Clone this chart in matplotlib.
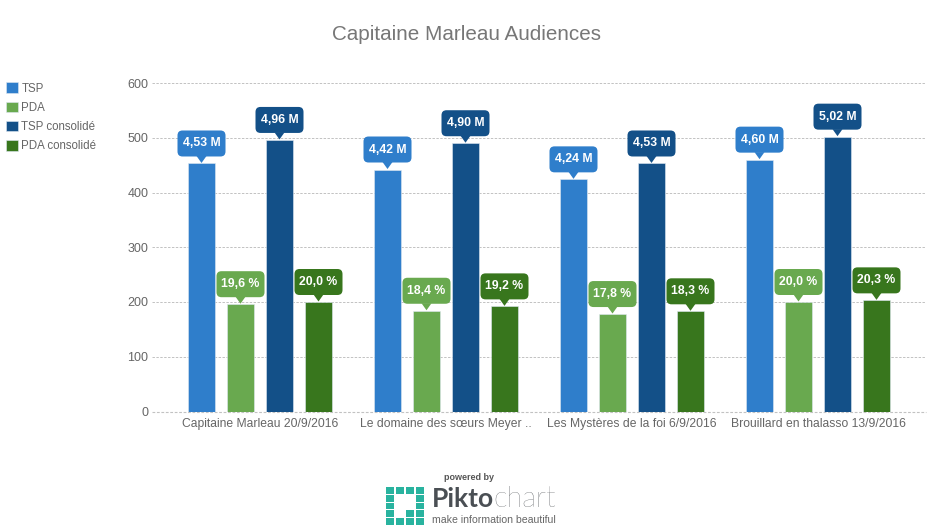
import matplotlib
matplotlib.use("Agg")
import matplotlib.pyplot as plt
from matplotlib.patches import Rectangle, FancyBboxPatch, Polygon
from matplotlib.transforms import Affine2D
import numpy as np

plt.rcParams['font.family'] = ['Liberation Sans', 'DejaVu Sans']

categories = ["Capitaine Marleau 20/9/2016", "Le domaine des sœurs Meyer ..",
              "Les Mystères de la foi 6/9/2016", "Brouillard en thalasso 13/9/2016"]
series_names = ["TSP", "PDA", "TSP consolidé", "PDA consolidé"]
tsp = [453, 442, 424, 460]
pda = [196, 184, 178, 200]
tsp_cons = [496, 490, 453, 502]
pda_cons = [200, 192, 183, 203]
tsp_labels = ["4,53 M", "4,42 M", "4,24 M", "4,60 M"]
pda_labels = ["19,6 %", "18,4 %", "17,8 %", "20,0 %"]
tsp_cons_labels = ["4,96 M", "4,90 M", "4,53 M", "5,02 M"]
pda_cons_labels = ["20,0 %", "19,2 %", "18,3 %", "20,3 %"]
colors = ["#2f7ecb", "#69a94f", "#135088", "#38761d"]
yticks = [0, 100, 200, 300, 400, 500, 600]

W, H = 940, 527
fig = plt.figure(figsize=(W/100, H/100), dpi=100, facecolor="white")
L, R, T, B = 152, 926, 83, 411.5
ax = fig.add_axes([L/W, 1-B/H, (R-L)/W, (B-T)/H])
ax.set_xlim((L-260)/186, (R-260)/186)
ax.set_ylim(0, 600)

values = [tsp, pda, tsp_cons, pda_cons]
labels = [tsp_labels, pda_labels, tsp_cons_labels, pda_cons_labels]
x = np.arange(len(categories))
step = 39/186
width = 27/186
for i, (vals, labs, c, name) in enumerate(zip(values, labels, colors, series_names)):
    xs = x + (i-1.5)*step
    ax.bar(xs, vals, width=width, color=c, label=name, zorder=3, edgecolor="#dfe8f2", linewidth=0.4)
    for xi, v, s in zip(xs, vals, labs):
        tr = Affine2D().translate(*ax.transData.transform((xi, v)))
        ax.add_patch(FancyBboxPatch((-20, 11), 40, 18, boxstyle="round,pad=4,rounding_size=5",
                                    fc=c, ec=c, lw=0, transform=tr, zorder=4, clip_on=False))
        ax.add_patch(Polygon([(-5, 7.5), (5, 7.5), (0, 0.5)], closed=True, fc=c, ec=c, lw=0,
                             transform=tr, zorder=4, clip_on=False))
        ax.annotate(s, (xi, v), xytext=(0, 20*0.72), textcoords="offset points",
                    ha="center", va="center", color="white", fontsize=8.8, fontweight="bold", zorder=5)

ax.set_yticks(yticks)
ax.set_xticks(x, categories)
ax.tick_params(axis="both", length=0, labelcolor="#666666")
ax.tick_params(axis="y", pad=2.5, labelsize=9)
ax.tick_params(axis="x", pad=5, labelsize=8.7)
ax.grid(axis="y", color="#c2c2c2", ls=(0, (2.5, 1.5)), lw=0.7, zorder=0)
ax.set_axisbelow(True)
for s in ax.spines.values():
    s.set_visible(False)
ax.axhline(0, color="#c2c2c2", ls=(0, (2.5, 1.5)), lw=0.8, zorder=2, clip_on=False)

fig.text(467/W, 1-34.5/H, "Capitaine Marleau Audiences", ha="center", va="center",
         fontsize=14.9, color="#777777")

h, l = ax.get_legend_handles_labels()
fig.legend(h, l, loc="upper left", bbox_to_anchor=(3/W, 1-79/H), frameon=False, fontsize=8.3,
           labelcolor="#666666", handlelength=1.0, handleheight=1.0, handletextpad=0.3,
           labelspacing=0.62, borderpad=0.3, borderaxespad=0)

# Logo
logo = fig.add_axes([0, 0, 1, 1], facecolor="none")
logo.set_xlim(0, W); logo.set_ylim(H, 0); logo.axis("off")
teal = "#29b39f"
cells = [(0,0),(1,0),(2,0),(3,0),(0,1),(3,1),(0,2),(3,2),(0,3),(2,3),(3,3),(0,4),(1,4),(2,4),(3,4)]
for cx, cy in cells:
    logo.add_patch(Rectangle((385.5+10.3*cx, 487+7.8*cy), 8, 6.8, fc=teal, ec="none"))
fig.text(469/W, 1-477.5/H, "powered by", ha="center", va="center", fontsize=6.5, color="#555555", fontweight="bold")
fig.text(432/W, 1-499/H, "Pikto", ha="left", va="center", fontsize=19, color="#4a4f54", fontweight="bold", family="Lato")
fig.text(493/W, 1-499/H, "chart", ha="left", va="center", fontsize=21, color="#44484c", fontweight="light", family="Lato")
fig.text(432/W, 1-520/H, "make information beautiful", ha="left", va="center", fontsize=7.6, color="#666666")

fig.savefig("out.png", dpi=100)
